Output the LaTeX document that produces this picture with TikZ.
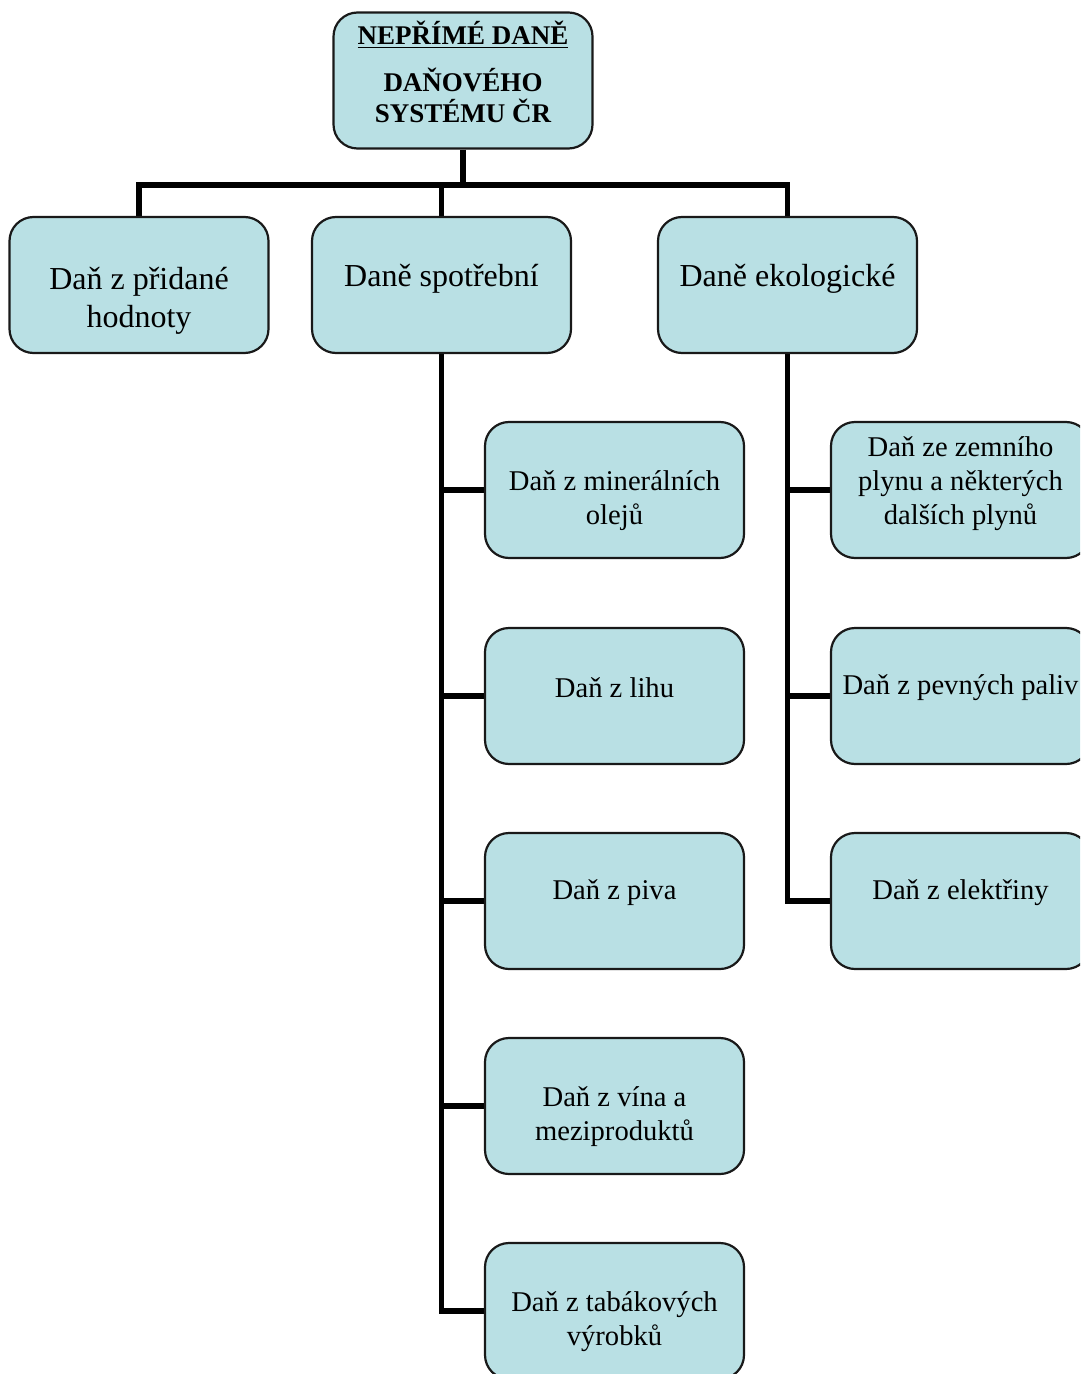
\documentclass[tikz,border=0pt]{standalone}
\usepackage{fontspec}
\setmainfont{Liberation Serif}
\pgfdeclarelayer{lines}
\pgfsetlayers{lines,main}
\begin{document}
\begin{tikzpicture}[x=0.5pt,y=-0.5pt,
  box/.style={draw=black!90,line width=1.1pt,fill=boxfill,rounded corners=12pt,
    minimum width=129.5pt,minimum height=68pt,inner sep=0pt},
  conn/.style={line width=2.6pt,black,line join=miter},
  lvltwo/.style={align=center,font=\fontsize{16}{19}\selectfont},
  leaf/.style={align=center,font=\fontsize{14.3}{17}\selectfont},
  headtxt/.style={align=center,font=\bfseries\fontsize{13.5}{15.5}\selectfont}]
\definecolor{boxfill}{RGB}{185,224,228}
\useasboundingbox (0,0) rectangle (1080,1374);
\clip (0,0) rectangle (1080,1374);

% boxes
\node[box] (root) at (463,80.5) {};
\node[box] (vat) at (139,285) {};
\node[box] (exc) at (441.5,285) {};
\node[box] (eco) at (787.5,285) {};
\node[box] (s1) at (614.5,490) {};
\node[box] (s2) at (614.5,696) {};
\node[box] (s3) at (614.5,901) {};
\node[box] (s4) at (614.5,1106) {};
\node[box] (s5) at (614.5,1311) {};
\node[box] (e1) at (960.5,490) {};
\node[box] (e2) at (960.5,696) {};
\node[box] (e3) at (960.5,901) {};

% connectors, kept behind the boxes
\coordinate (hub) at (463,185);
\begin{pgfonlayer}{lines}
\draw[conn] (root.south) -- (hub);
\draw[conn] (vat.north) |- (hub) -| (eco.north);
\draw[conn] (hub) -| (exc.north);
\foreach \c in {s1,s2,s3,s4,s5} \draw[conn] (exc.south) |- (\c.west);
\foreach \c in {e1,e2,e3} \draw[conn] (eco.south) |- (\c.west);
\end{pgfonlayer}

% texts
\node[headtxt] (t0) at (463,35) {\underline{NEPŘÍMÉ DANĚ}};
\node[headtxt] (t1) at (463,95) {DAŇOVÉHO\\SYSTÉMU ČR};
\node[lvltwo] (tvat) at (139,301) {Daň z přidané\\hodnoty};
\node[lvltwo] (texc) at (441.5,279) {Daně spotřební};
\node[lvltwo] (teco) at (787.5,279) {Daně ekologické};
\node[leaf] (ts1) at (614.5,501) {Daň z minerálních\\olejů};
\node[leaf] (ts2) at (614.5,688) {Daň z lihu};
\node[leaf] (ts3) at (614.5,893) {Daň z piva};
\node[leaf] (ts4) at (614.5,1117) {Daň z vína a\\meziproduktů};
\node[leaf] (ts5) at (614.5,1322) {Daň z tabákových\\výrobků};
\node[leaf] (te1) at (960.5,484) {Daň ze zemního\\plynu a některých\\dalších plynů};
\node[leaf] (te2) at (960.5,688) {Daň z pevných paliv};
\node[leaf] (te3) at (960.5,893) {Daň z elektřiny};
\end{tikzpicture}
\end{document}
